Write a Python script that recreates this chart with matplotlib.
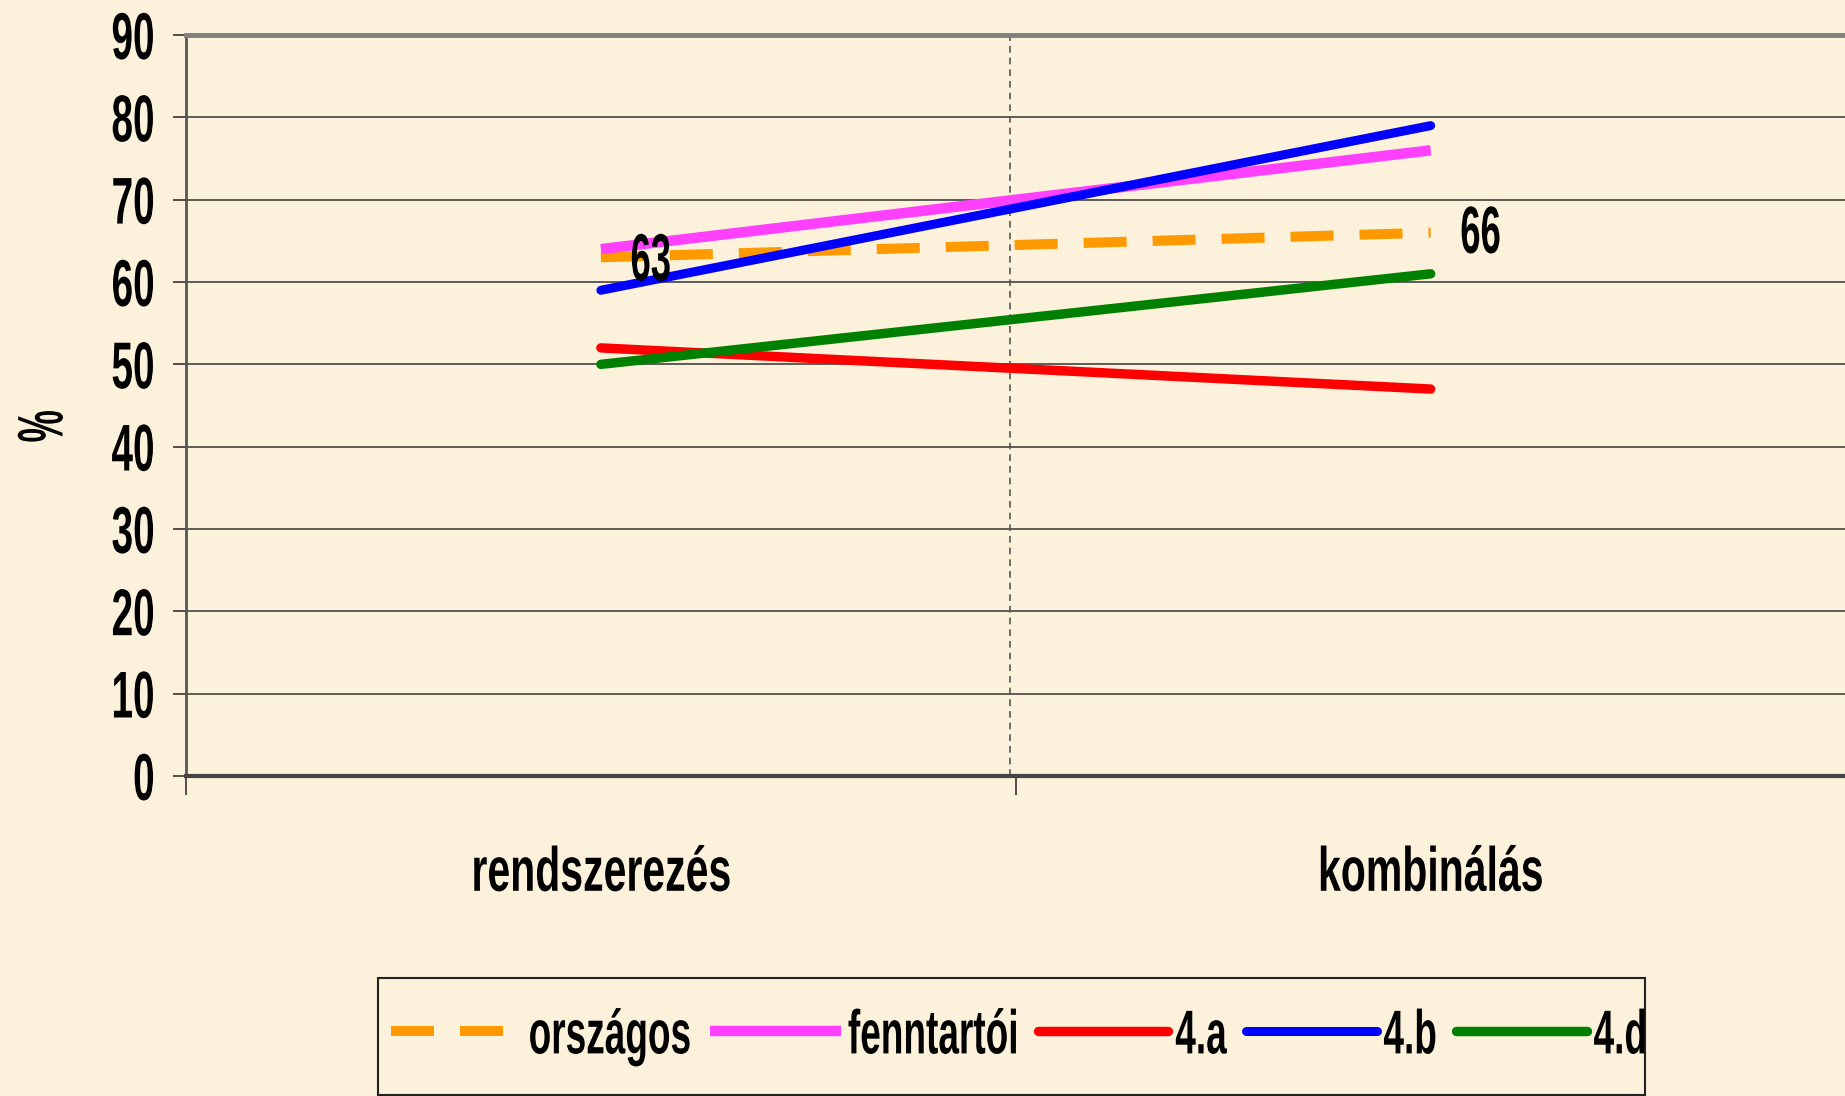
import numpy as np
import matplotlib
matplotlib.use('Agg')
import matplotlib.pyplot as plt
from matplotlib import font_manager
from matplotlib.patheffects import AbstractPathEffect
from matplotlib.transforms import Affine2D
from matplotlib.patches import Rectangle

# adatok
kategoriak = ['rendszerezés', 'kombinálás']
orszagos = [63, 66]
fenntartoi = [64, 76]
negy_a = [52, 47]
negy_b = [59, 79]
negy_d = [50, 61]
yticks = [0, 10, 20, 30, 40, 50, 60, 70, 80, 90]

bg = '#FCF1DA'

# keskeny betutipus, ha van; kulonben a normal Liberation Sans kisebb meretben
nevek = {f.name for f in font_manager.fontManager.ttflist}
if 'Liberation Sans Narrow' in nevek:
    csalad, kx = 'Liberation Sans Narrow', 1.0
elif 'Liberation Sans' in nevek:
    csalad, kx = 'Liberation Sans', 0.82
else:
    csalad, kx = 'DejaVu Sans', 0.72
plt.rcParams['font.family'] = [csalad, 'DejaVu Sans']
plt.rcParams['font.weight'] = 'bold'


class Nyujt(AbstractPathEffect):
    """a betuket fuggolegesen megnyujtja (mint a keskeny, magas diafelirat)"""
    def __init__(self, sy, c=36):
        super().__init__()
        self._t = Affine2D().translate(0, -c).scale(1, sy).translate(0, c)

    def draw_path(self, renderer, gc, tpath, affine, rgbFace=None):
        renderer.draw_path(gc, tpath, self._t + affine, rgbFace)


def nyujt(t, sy):
    t.set_path_effects([Nyujt(sy / kx)])


fig = plt.figure(figsize=(18.45, 10.96), dpi=100, facecolor=bg)
ax = fig.add_axes([0.1008, 0.292, 0.8995, 0.676], facecolor=bg)

x = np.arange(len(kategoriak))

# racsvonalak
for v in yticks[1:-1]:
    ax.axhline(v, color='#333333', lw=1.1, zorder=1)
ax.axvline(0.493, color='#555555', lw=1.2, ls=(0, (4, 3)), zorder=1)

ax.plot(x, orszagos, color='#FF9900', lw=7.2, dashes=(4.3, 2.6),
        solid_capstyle='butt', dash_capstyle='butt', label='országos', zorder=3)
ax.plot(x, fenntartoi, color='#FF40FF', lw=7.5, solid_capstyle='butt',
        label='fenntartói', zorder=3)
ax.plot(x, negy_a, color='#FF0000', lw=6.8, solid_capstyle='round', label='4.a', zorder=3)
ax.plot(x, negy_b, color='#0000FF', lw=6.5, solid_capstyle='round', label='4.b', zorder=4)
ax.plot(x, negy_d, color='#008000', lw=6.8, solid_capstyle='round', label='4.d', zorder=4)

# adatcimkek
eltolas = [(36, 1), (36, 3)]
for i in range(len(x)):
    t = ax.annotate(str(orszagos[i]), (x[i], orszagos[i]), xytext=eltolas[i],
                    textcoords='offset points', ha='center', va='center_baseline',
                    fontsize=32 * kx, fontweight='bold', zorder=5)
    nyujt(t, 1.5)

ax.set_xlim(-0.5, 1.5)
ax.set_ylim(0, 90)
ax.set_yticks(yticks)
ax.set_yticklabels([str(v) for v in yticks], fontsize=34 * kx, fontweight='bold')
ax.tick_params(axis='y', length=9.5, width=1.2, color='#333333', pad=13)
for t in ax.get_yticklabels():
    nyujt(t, 1.4)

ax.set_xticks(x)
ax.set_xticklabels(kategoriak, fontsize=36 * kx, fontweight='bold')
ax.tick_params(axis='x', which='major', length=0, pad=55.5)
for t in ax.get_xticklabels():
    nyujt(t, 1.25)
ax.set_xticks([-0.5, 0.5, 1.5], minor=True)
ax.tick_params(axis='x', which='minor', length=14, width=1.2, color='#333333')

ax.set_ylabel('%', fontsize=32 * kx, fontweight='bold', va='center')
ax.yaxis.set_label_coords(-0.0862, 0.472)
nyujt(ax.yaxis.label, 1.45)

ax.spines['top'].set_color('#808080')
ax.spines['top'].set_linewidth(3.5)
ax.spines['bottom'].set_color('#444444')
ax.spines['bottom'].set_linewidth(3)
ax.spines['left'].set_color('#555555')
ax.spines['left'].set_linewidth(2)
ax.spines['right'].set_visible(False)

# jelmagyarazat: keret kulon, mert a szoveg majdnem a jobb szelig er
fig.patches.append(Rectangle((0.2049, 0.001), 0.6867, 0.1068, transform=fig.transFigure,
                             facecolor=bg, edgecolor='#222222', lw=1.5, zorder=0))
leg = fig.legend(loc='center', bbox_to_anchor=(0.5523, 0.0557), ncol=5,
                 fontsize=32.5 * kx, frameon=False,
                 handlelength=2.9 / kx, handletextpad=0.15 / kx,
                 columnspacing=0.42 / kx, borderpad=0.2, borderaxespad=0)
for t in leg.get_texts():
    t.set_fontweight('bold')
    nyujt(t, 1.37)

fig.savefig('out.png', dpi=100, facecolor=bg)
